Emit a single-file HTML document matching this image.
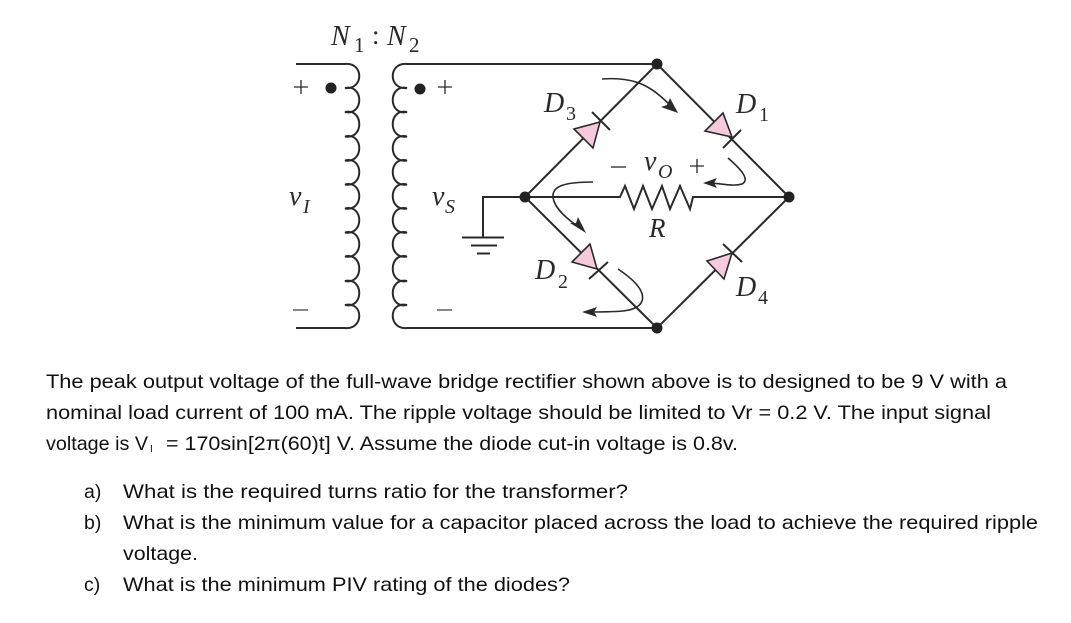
<!DOCTYPE html>
<html><head><meta charset="utf-8"><style>
html,body{margin:0;padding:0;background:#fff}
svg{display:block}
.t{font-family:"Liberation Sans",sans-serif;font-size:19.5px;fill:#111}
.s{font-family:"Liberation Serif",serif;font-style:italic;fill:#2a2a2a}
.u{font-family:"Liberation Serif",serif;fill:#2a2a2a}
.w{fill:none;stroke:#2a2a2a;stroke-width:2}
.d{fill:#f7c9dc;stroke:#2a2a2a;stroke-width:1.6;stroke-linejoin:miter}
</style></head><body>
<svg width="1071" height="623" viewBox="0 0 1071 623" xmlns="http://www.w3.org/2000/svg">
<rect width="1071" height="623" fill="#fff"/>
<path class="w" d="M296 64H345C364 62 364 90 345 88C364 84 364 116 345 112C364 108 364 140 345 136.5C364 132 364 164 345 160.5C364 156 364 188 345 184.5C364 180 364 212 345 208.5C364 204 364 236 345 232.5C364 228 364 260 345 256.5C364 252 364 285 345 281C364 277 364 309 345 305C364 301 364 330 345 328H296"/>
<path class="w" d="M657 64H407C388 62 388 90 407 88C388 84 388 116 407 112C388 108 388 140 407 136.5C388 132 388 164 407 160.5C388 156 388 188 407 184.5C388 180 388 212 407 208.5C388 204 388 236 407 232.5C388 228 388 260 407 256.5C388 252 388 285 407 281C388 277 388 309 407 305C388 301 388 330 407 328H657"/>
<circle cx="331" cy="88" r="5.500" fill="#222"/><circle cx="420" cy="89" r="5.500" fill="#222"/>
<path class="w" style="stroke-width:1.3" d="M294 87H308M301 80V94M438 87H452M445 80V94"/>
<path d="M293 310H308M437 310H452" fill="none" stroke="#888" stroke-width="2"/>
<text class="s" x="331" y="45" font-size="28">N</text><text class="u" x="354" y="52" font-size="21">1</text>
<text class="u" x="372" y="44" font-size="27">:</text>
<text class="s" x="387" y="45" font-size="28">N</text><text class="u" x="409" y="52" font-size="21">2</text>
<text class="s" x="289" y="205" font-size="28">v</text><text class="s" x="303" y="213" font-size="20">I</text>
<text class="s" x="432" y="205" font-size="28">v</text><text class="s" x="445" y="213" font-size="20">S</text>
<path class="w" d="M525 197H483V237"/>
<path class="w" d="M462 237.500H504M471 245.500H497M477 253.500H490"/>
<path class="w" d="M657 64L525 197L657 328L789 197ZM525 197H620L625 186L634 209L643 186L652 209L662 186L670 209L680 186L690 209L693 197H789"/>
<circle cx="657" cy="64" r="5.500" fill="#222"/><circle cx="525" cy="197" r="5.500" fill="#222"/><circle cx="789" cy="197" r="5.500" fill="#222"/><circle cx="657" cy="328" r="5.500" fill="#222"/>
<polygon class="d" points="574,129 600,122 593,148"/><path class="w" d="M592 112L610 130"/>
<polygon class="d" points="723,113 705,131 732,137"/><path class="w" d="M741 130L723 148"/>
<polygon class="d" points="590,244 572,262 597,269"/><path class="w" d="M608 262L589 279"/>
<polygon class="d" points="707,261 732,253 724,279"/><path class="w" d="M723 244L742 262"/>
<path class="w" style="stroke-width:1.6" d="M602 79C640 76 655 90 674 109"/>
<path d="M678 113L661 107L667 105L670 98Z" fill="#2a2a2a"/>
<path class="w" style="stroke-width:1.6" d="M728 158C742 170 750 180 742 184C732 187 720 183 708 183"/>
<path d="M703 183L717 178L714 183L717 188Z" fill="#2a2a2a"/>
<path class="w" style="stroke-width:1.6" d="M593 182C565 182 552 186 553 197C554 208 568 220 582 229"/>
<path d="M586 233L570 223L576 223L578 217Z" fill="#2a2a2a"/>
<path class="w" style="stroke-width:1.6" d="M618 269C636 281 645 292 642 301C638 312 620 312 588 312"/>
<path d="M582 312L597 307L594 312L597 317Z" fill="#2a2a2a"/>
<text class="s" x="544" y="112" font-size="28">D</text><text class="u" x="566" y="120" font-size="20">3</text>
<text class="s" x="736" y="113" font-size="28">D</text><text class="u" x="759" y="121" font-size="20">1</text>
<text class="s" x="535" y="279" font-size="28">D</text><text class="u" x="558" y="288" font-size="20">2</text>
<text class="s" x="736" y="296" font-size="28">D</text><text class="u" x="758" y="304" font-size="20">4</text>
<text class="s" x="649" y="237" font-size="27">R</text>
<text class="s" x="644" y="170" font-size="28">v</text><text class="s" x="658" y="178" font-size="20">O</text>
<path d="M611 167H626" stroke="#444" stroke-width="1.500"/>
<path class="w" style="stroke-width:1.3" d="M690 166H704M697 159V173"/>
<text class="t" x="46" y="388" textLength="961" lengthAdjust="spacingAndGlyphs">The peak output voltage of the full-wave bridge rectifier shown above is to designed to be 9 V with a</text>
<text class="t" x="46" y="419" textLength="945" lengthAdjust="spacingAndGlyphs">nominal load current of 100 mA. The ripple voltage should be limited to Vr = 0.2 V. The input signal</text>
<text class="t" x="46" y="450" textLength="102" lengthAdjust="spacingAndGlyphs">voltage is V</text>
<text class="t" x="150" y="452" style="font-size:10px">I</text>
<text class="t" x="166" y="450" textLength="572" lengthAdjust="spacingAndGlyphs">= 170sin[2π(60)t] V. Assume the diode cut-in voltage is 0.8v.</text>
<text class="t" x="84" y="498">a)</text>
<text class="t" x="123" y="498" textLength="505" lengthAdjust="spacingAndGlyphs">What is the required turns ratio for the transformer?</text>
<text class="t" x="84" y="529">b)</text>
<text class="t" x="123" y="529" textLength="915" lengthAdjust="spacingAndGlyphs">What is the minimum value for a capacitor placed across the load to achieve the required ripple</text>
<text class="t" x="123" y="560" textLength="75" lengthAdjust="spacingAndGlyphs">voltage.</text>
<text class="t" x="84" y="591">c)</text>
<text class="t" x="123" y="591" textLength="447" lengthAdjust="spacingAndGlyphs">What is the minimum PIV rating of the diodes?</text>
</svg>
</body></html>
